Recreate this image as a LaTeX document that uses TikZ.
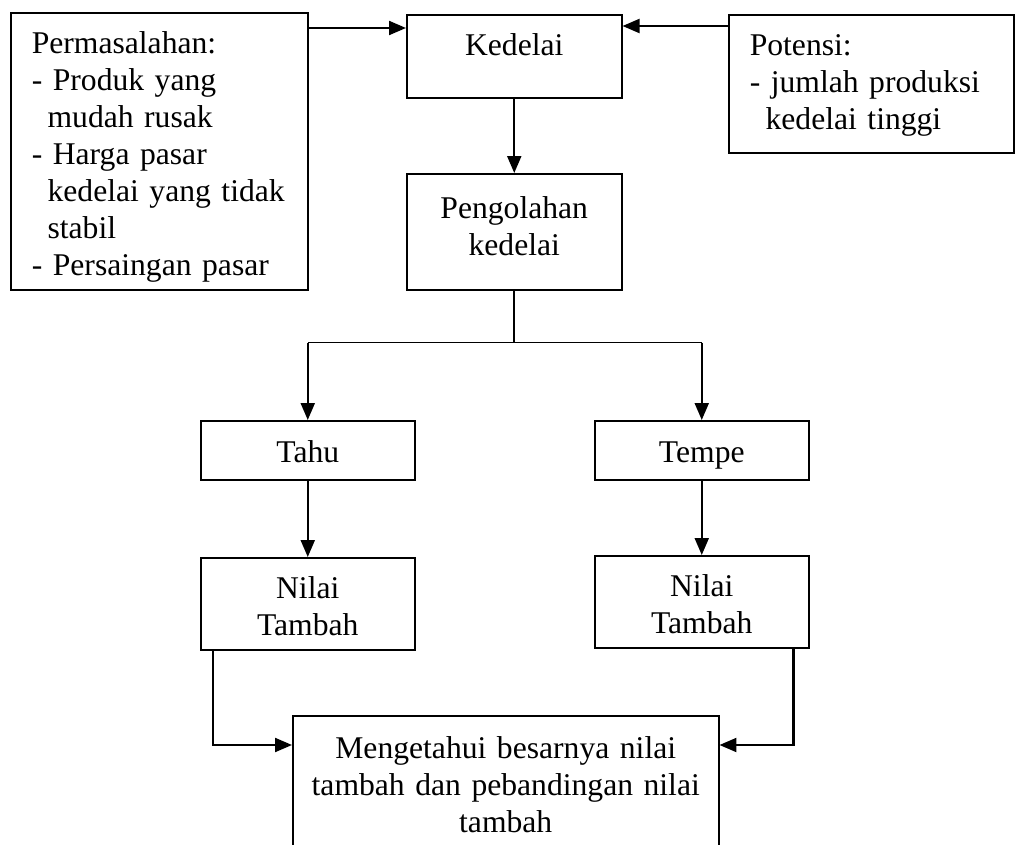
\documentclass[tikz,border=0pt]{standalone}
\usepackage{fontspec}
\setmainfont{Liberation Serif}
\usetikzlibrary{arrows.meta}

\begin{document}
\begin{tikzpicture}[x=0.02cm,y=-0.02cm,
  >={Triangle[length=0.34cm,width=0.28cm]},
  kotak/.style={draw,line width=0.9pt,anchor=north west,inner sep=0pt,align=center,font=\fontsize{18}{21}\selectfont},
  daftar/.style={kotak,align=left,inner xsep=0.42cm},
  panah/.style={line width=1.2pt,->}]
\clip (0,0) rectangle (1019,845);

\node[daftar,text width=5.1cm,text height=0.82cm,text depth=4.72cm] (perm) at (10,12) {Permasalahan:\\- Produk yang\\\hspace*{0.5em}mudah rusak\\- Harga pasar\\\hspace*{0.5em}kedelai yang tidak\\\hspace*{0.5em}stabil\\- Persaingan pasar};
\node[kotak,text width=4.3cm,text height=0.82cm,text depth=0.84cm] (kdl) at (406,14) {Kedelai};
\node[daftar,text width=4.86cm,text height=0.82cm,text depth=1.94cm] (pot) at (728,14) {Potensi:\\- jumlah produksi\\\hspace*{0.5em}kedelai tinggi};
\node[kotak,text width=4.3cm,text height=0.9cm,text depth=1.42cm] (olah) at (406,173) {Pengolahan\\kedelai};
\node[kotak,text width=4.28cm,text height=0.84cm,text depth=0.34cm] (tahu) at (200,420) {Tahu};
\node[kotak,text width=4.28cm,text height=0.84cm,text depth=0.34cm] (tempe) at (594,420) {Tempe};
\node[kotak,text width=4.28cm,text height=0.82cm,text depth=1.02cm] (nilaiA) at (200,557) {Nilai\\Tambah};
\node[kotak,text width=4.28cm,text height=0.82cm,text depth=1.02cm] (nilaiB) at (594,555) {Nilai\\Tambah};
\node[kotak,text width=8.52cm,text height=0.86cm,text depth=2.04cm] (akhir) at (292,715) {Mengetahui besarnya nilai\\tambah dan pebandingan nilai\\tambah};

\draw[panah] (perm.east |- 0,28) -- (kdl.west |- 0,28);
\draw[panah] (pot.west |- 0,26) -- (kdl.east |- 0,26);
\draw[panah] (kdl.south) -- (olah.north);
\draw[line width=0.9pt] (olah.south) -- ++(0,52) coordinate (cabang);
\draw[line width=0.9pt] (tahu.north |- cabang) -- (tempe.north |- cabang);
\draw[panah] (tahu.north |- cabang) -- (tahu.north);
\draw[panah] (tempe.north |- cabang) -- (tempe.north);
\draw[panah] (tahu.south) -- (nilaiA.north);
\draw[panah] (tempe.south) -- (nilaiB.north);
\draw[panah] ([xshift=0.26cm]nilaiA.south west) |- (akhir.west |- 0,745);
\draw[panah] ([xshift=-0.32cm]nilaiB.south east) |- (akhir.east |- 0,745);
\end{tikzpicture}
\end{document}
